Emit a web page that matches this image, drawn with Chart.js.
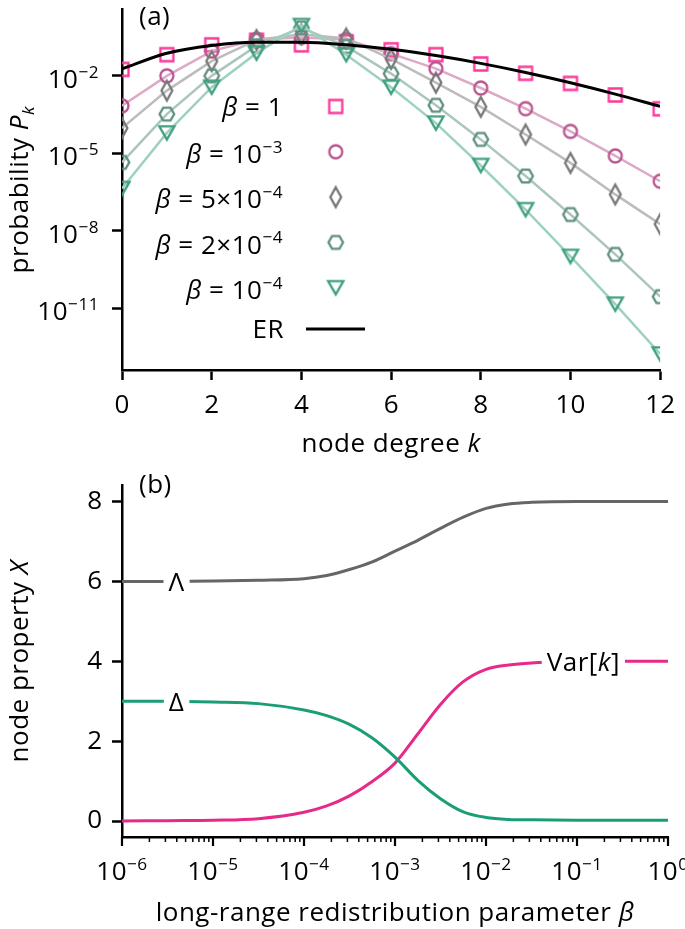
<!DOCTYPE html>
<html>
<head>
<meta charset="utf-8">
<script src="https://cdn.jsdelivr.net/npm/chart.js@4.4.1/dist/chart.umd.min.js"></script>
<style>
  html, body { margin: 0; padding: 0; background: #fff; }
  #wrap { position: relative; width: 685px; height: 929px; }
  canvas { position: absolute; left: 0; }
  #chartA { top: 0; }
  #chartB { top: 460px; }
</style>
</head>
<body>
<div id="wrap">
  <canvas id="chartA" width="685" height="460"></canvas>
  <canvas id="chartB" width="685" height="469"></canvas>
</div>
<script>
const FONT = '"Open Sans", "DejaVu Sans", sans-serif';
const FS = 26;
const SPACING = "0.5px";

// panel (a): degree distribution P_k
const degrees = [0, 1, 2, 3, 4, 5, 6, 7, 8, 9, 10, 11, 12];
const degreeTicks = [0, 2, 4, 6, 8, 10, 12];
const probTicks = [1e-2, 1e-5, 1e-8, 1e-11];
const probTickExp = ["−2", "−5", "−8", "−11"];
const betaLabels = ["1", "10^−3", "5×10^−4", "2×10^−4", "10^−4"];

const pBeta1 = [1.74e-2, 6.46e-2, 1.55e-1, 2.34e-1, 1.55e-1, 2.04e-1, 1.00e-1, 6.46e-2, 2.82e-2, 1.23e-2, 5.0e-3, 1.78e-3, 5.2e-4];
const pBeta1e3 = [6.76e-4, 9.77e-3, 8.91e-2, 2.51e-1, 3.02e-1, 2.51e-1, 7.08e-2, 1.86e-2, 3.31e-3, 5.25e-4, 6.92e-5, 7.76e-6, 8.13e-7];
const pBeta5e4 = [9.33e-5, 2.63e-3, 3.63e-2, 2.40e-1, 3.98e-1, 2.75e-1, 4.47e-2, 5.37e-3, 6.17e-4, 5.25e-5, 4.17e-6, 2.51e-7, 1.78e-8];
const pBeta2e4 = [4.37e-6, 3.24e-4, 9.77e-3, 1.41e-1, 7.08e-1, 1.35e-1, 1.20e-2, 7.08e-4, 3.39e-5, 1.29e-6, 4.17e-8, 1.20e-9, 2.75e-11];
const pBeta1e4 = [4.27e-7, 6.03e-5, 3.55e-3, 7.41e-2, 8.71e-1, 6.46e-2, 3.55e-3, 1.45e-4, 3.31e-6, 6.46e-8, 1.0e-9, 1.41e-11, 1.66e-13];
const pER = [1.832e-2, 7.326e-2, 1.465e-1, 1.954e-1, 1.954e-1, 1.563e-1, 1.042e-1, 5.954e-2, 2.977e-2, 1.323e-2, 5.292e-3, 1.925e-3, 6.42e-4];

// panel (b): node properties against beta
const betaExp = [-6, -5.5, -5, -4.5, -4, -3.75, -3.5, -3.25, -3, -2.75, -2.5, -2.25, -2, -1.75, -1.5, -1, -0.5, 0];
const xMaxDeg = [6.00, 6.00, 6.01, 6.03, 6.07, 6.15, 6.30, 6.49, 6.76, 7.03, 7.33, 7.61, 7.83, 7.94, 7.98, 8.00, 8.00, 8.00];
const xDelta = [3.00, 3.00, 2.98, 2.94, 2.78, 2.64, 2.42, 2.08, 1.60, 1.02, 0.56, 0.23, 0.09, 0.04, 0.03, 0.02, 0.02, 0.02];
const xVar = [0.00, 0.01, 0.02, 0.06, 0.22, 0.38, 0.63, 0.99, 1.45, 2.18, 2.92, 3.49, 3.80, 3.91, 3.96, 3.99, 4.00, 4.00];
const propTicks = [0, 2, 4, 6, 8];
const betaDecades = [-6, -5, -4, -3, -2, -1, 0];

const betas = betaExp.map(e => Math.pow(10, e));

// colours
const cSquare = "#fb3a9c", cCircle = "#b9568f", cDiamond = "#787878", cHex = "#5f8f7f", cTri = "#40a080";
const lCircle = "#dcaac7", lDiamond = "#bcbcbc", lHex = "#abc6bb", lTri = "#9fd1bf";
const cGrey = "#666666", cGreen = "#1b9e77", cPink = "#e7298a";

Chart.defaults.font.family = FONT;
Chart.defaults.font.size = FS;
Chart.defaults.color = "#000";

function makeMarker(shape, color) {
  const c = document.createElement("canvas");
  c.width = 26; c.height = 26;
  const g = c.getContext("2d");
  const m = 13;
  g.strokeStyle = color;
  g.lineWidth = 2.3;
  g.beginPath();
  if (shape === "square") {
    g.rect(m - 6.5, m - 6.5, 13, 13);
  } else if (shape === "circle") {
    g.arc(m, m, 6.5, 0, 2 * Math.PI);
  } else if (shape === "diamond") {
    g.moveTo(m, m - 9.8); g.lineTo(m + 5.4, m); g.lineTo(m, m + 9.8); g.lineTo(m - 5.4, m); g.closePath();
  } else if (shape === "hexagon") {
    for (let i = 0; i < 6; i++) {
      const a = Math.PI / 3 * i;
      const px = m + 7.3 * Math.cos(a), py = m + 7.3 * Math.sin(a);
      if (i === 0) g.moveTo(px, py); else g.lineTo(px, py);
    }
    g.closePath();
  } else if (shape === "triangle") {
    g.moveTo(m - 7.6, m - 6.6); g.lineTo(m + 7.6, m - 6.6); g.lineTo(m, m + 6.6); g.closePath();
  }
  g.stroke();
  return c;
}

const markers = [
  makeMarker("square", cSquare),
  makeMarker("circle", cCircle),
  makeMarker("diamond", cDiamond),
  makeMarker("hexagon", cHex),
  makeMarker("triangle", cTri)
];

// rich text: parts are [text, style], style may hold "i" (italic), "^" (sup), "_" (sub)
function partFont(st, size) {
  const small = st.includes("^") || st.includes("_");
  return (st.includes("i") ? "italic " : "") + (small ? size * 0.66 : size) + "px " + FONT;
}
function richWidth(ctx, parts, size) {
  let w = 0;
  ctx.letterSpacing = SPACING;
  for (const [t, st] of parts) { ctx.font = partFont(st, size); w += ctx.measureText(t).width; }
  return w;
}
function drawRich(ctx, parts, x, y, align, size) {
  size = size || FS;
  const total = richWidth(ctx, parts, size);
  let cx = align === "right" ? x - total : align === "center" ? x - total / 2 : x;
  const base = y + size * 0.36;
  ctx.textAlign = "left";
  ctx.textBaseline = "alphabetic";
  ctx.fillStyle = "#000";
  for (const [t, st] of parts) {
    ctx.font = partFont(st, size);
    let dy = 0;
    if (st.includes("^")) dy = -size * 0.40;
    if (st.includes("_")) dy = size * 0.22;
    ctx.fillText(t, cx, base + dy);
    cx += ctx.measureText(t).width;
  }
  return total;
}
function powerParts(label) {
  const [a, b] = label.split("^");
  const parts = [[a, ""]];
  if (b) parts.push([b, "^"]);
  return parts;
}

// ---------- panel (a) ----------
const plotA = {
  id: "plotA",
  afterDraw(chart) {
    const ctx = chart.ctx;
    const area = chart.chartArea;
    const y = chart.scales.y;
    ctx.save();
    probTicks.forEach((v, i) => {
      drawRich(ctx, [["10", ""], [probTickExp[i], "^"]], area.left - 23, y.getPixelForValue(v) + 3, "right");
    });
    drawRich(ctx, [["(a)", ""]], 139, 16, "left");
    drawRich(ctx, [["node degree ", ""], ["k", "i"]], (area.left + area.right) / 2, 443, "center");
    ctx.translate(19, (area.top + area.bottom) / 2);
    ctx.rotate(-Math.PI / 2);
    drawRich(ctx, [["probability ", ""], ["P", "i"], ["k", "i_"]], 0, 0, "center");
    ctx.restore();

    // legend
    ctx.save();
    const rows = [106.5, 151.8, 197.1, 242.4, 287.7];
    betaLabels.forEach((lab, i) => {
      const parts = [["β", "i"], [" = ", ""]].concat(powerParts(lab));
      drawRich(ctx, parts, 283, rows[i] + (lab.includes("^") ? 2 : 0), "right");
      const mk = markers[i];
      ctx.drawImage(mk, 335.7 - mk.width / 2, rows[i] - mk.height / 2);
    });
    drawRich(ctx, [["ER", ""]], 284, 329, "right");
    ctx.strokeStyle = "#000";
    ctx.lineWidth = 3;
    ctx.beginPath();
    ctx.moveTo(306, 329);
    ctx.lineTo(365, 329);
    ctx.stroke();
    ctx.restore();
  }
};

function pts(values) {
  return degrees.map((k, i) => ({ x: k, y: values[i] }));
}

new Chart(document.getElementById("chartA"), {
  type: "line",
  data: {
    datasets: [
      { data: pts(pER), borderColor: "#000", borderWidth: 3, pointRadius: 0, cubicInterpolationMode: "monotone", clip: 0 },
      { data: pts(pBeta1e4), borderColor: lTri, borderWidth: 2.5, pointStyle: markers[4], pointRadius: 7, clip: 0 },
      { data: pts(pBeta2e4), borderColor: lHex, borderWidth: 2.5, pointStyle: markers[3], pointRadius: 7, clip: 0 },
      { data: pts(pBeta5e4), borderColor: lDiamond, borderWidth: 2.5, pointStyle: markers[2], pointRadius: 7, clip: 0 },
      { data: pts(pBeta1e3), borderColor: lCircle, borderWidth: 2.5, pointStyle: markers[1], pointRadius: 7, clip: 0 },
      { data: pts(pBeta1), showLine: false, pointStyle: markers[0], pointRadius: 7, clip: 0 }
    ]
  },
  options: {
    responsive: false,
    animation: false,
    events: [],
    layout: { padding: { top: 1, right: 17, left: 0, bottom: 0 } },
    plugins: { legend: { display: false }, tooltip: { enabled: false } },
    scales: {
      x: {
        type: "linear", min: 0, max: 12,
        afterBuildTicks: s => { s.ticks = degreeTicks.map(v => ({ value: v })); },
        afterFit: s => { s.height = 90; },
        grid: { drawOnChartArea: false, tickLength: 10, tickWidth: 2.5, tickColor: "#000" },
        border: { color: "#000", width: 2.5 },
        ticks: { padding: 10, maxRotation: 0, font: { size: FS } }
      },
      y: {
        type: "logarithmic", min: Math.pow(10, -13.4), max: Math.pow(10, 0.56),
        afterBuildTicks: s => { s.ticks = probTicks.map(v => ({ value: v })); },
        afterFit: s => { s.width = 122; },
        grid: { drawOnChartArea: false, tickLength: 10, tickWidth: 2.5, tickColor: "#000" },
        border: { color: "#000", width: 2.5 },
        ticks: { display: false }
      }
    }
  },
  plugins: [plotA]
});

// ---------- panel (b) ----------
const lineLabels = [
  { parts: [["Λ", ""]], beta: Math.pow(10, -5.4), value: 6.0 },
  { parts: [["Δ", ""]], beta: Math.pow(10, -5.4), value: 3.0 },
  { parts: [["Var[", ""], ["k", "i"], ["]", ""]], beta: Math.pow(10, -0.93), value: 4.0 }
];

const plotB = {
  id: "plotB",
  afterDatasetsDraw(chart) {
    const ctx = chart.ctx;
    const x = chart.scales.x, y = chart.scales.y;
    ctx.save();
    for (const lab of lineLabels) {
      const px = x.getPixelForValue(lab.beta), py = y.getPixelForValue(lab.value);
      const w = richWidth(ctx, lab.parts, FS);
      ctx.fillStyle = "#fff";
      ctx.fillRect(px - w / 2 - 5, py - 5, w + 10, 10);
      drawRich(ctx, lab.parts, px, py, "center");
    }
    ctx.restore();
  },
  afterDraw(chart) {
    const ctx = chart.ctx;
    const area = chart.chartArea;
    const x = chart.scales.x;
    ctx.save();
    ctx.strokeStyle = "#000";
    betaDecades.forEach((d, i) => {
      const p = x.getPixelForValue(Math.pow(10, d));
      ctx.lineWidth = 2.2;
      ctx.beginPath(); ctx.moveTo(p, area.bottom); ctx.lineTo(p, area.bottom + 9); ctx.stroke();
      if (i < betaDecades.length - 1) {
        ctx.lineWidth = 1.5;
        for (let m = 2; m <= 9; m++) {
          const q = x.getPixelForValue(m * Math.pow(10, d));
          ctx.beginPath(); ctx.moveTo(q, area.bottom); ctx.lineTo(q, area.bottom + 5); ctx.stroke();
        }
      }
      const exp = d < 0 ? "−" + Math.abs(d) : String(d);
      drawRich(ctx, [["10", ""], [exp, "^"]], p, area.bottom + 34, "center");
    });
    drawRich(ctx, [["(b)", ""]], 139, 24, "left");
    drawRich(ctx, [["long-range redistribution parameter ", ""], ["β", "i"]], (area.left + area.right) / 2, 452, "center");
    ctx.translate(19, (area.top + area.bottom) / 2);
    ctx.rotate(-Math.PI / 2);
    drawRich(ctx, [["node property ", ""], ["X", "i"]], 0, 0, "center");
    ctx.restore();
  }
};

function bpts(values) {
  return betas.map((b, i) => ({ x: b, y: values[i] }));
}

new Chart(document.getElementById("chartB"), {
  type: "line",
  data: {
    datasets: [
      { data: bpts(xMaxDeg), borderColor: cGrey, borderWidth: 3, pointRadius: 0, cubicInterpolationMode: "monotone", clip: 0 },
      { data: bpts(xDelta), borderColor: cGreen, borderWidth: 3, pointRadius: 0, cubicInterpolationMode: "monotone", clip: 0 },
      { data: bpts(xVar), borderColor: cPink, borderWidth: 3, pointRadius: 0, cubicInterpolationMode: "monotone", clip: 0 }
    ]
  },
  options: {
    responsive: false,
    animation: false,
    events: [],
    layout: { padding: { top: 8, right: 17, left: 0, bottom: 0 } },
    plugins: { legend: { display: false }, tooltip: { enabled: false } },
    scales: {
      x: {
        type: "logarithmic", min: 1e-6, max: 1,
        afterFit: s => { s.height = 92; },
        grid: { display: false },
        border: { color: "#000", width: 2.5 },
        ticks: { display: false }
      },
      y: {
        type: "linear", min: -0.4, max: 8.4,
        afterBuildTicks: s => { s.ticks = propTicks.map(v => ({ value: v })); },
        afterFit: s => { s.width = 122; },
        grid: { drawOnChartArea: false, tickLength: 10, tickWidth: 2.5, tickColor: "#000" },
        border: { color: "#000", width: 2.5 },
        ticks: { padding: 10, font: { size: FS } }
      }
    }
  },
  plugins: [plotB]
});
</script>
</body>
</html>
